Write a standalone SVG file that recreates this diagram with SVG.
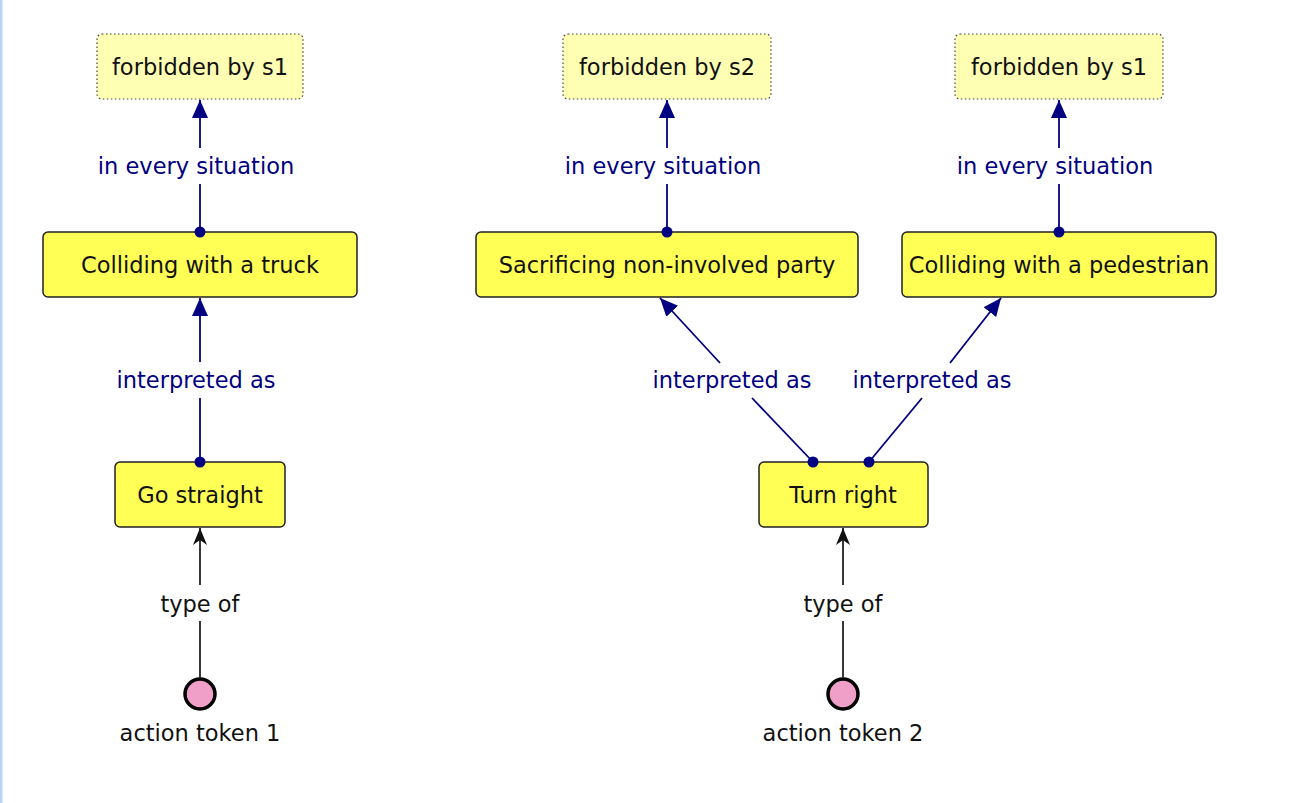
<svg xmlns="http://www.w3.org/2000/svg" width="1291" height="803" viewBox="0 0 1291 803">
<style>
.box{fill:#ffff55;stroke:#222;stroke-width:1.5}
.dbox{fill:#ffffb3;stroke:#444;stroke-width:1.2;stroke-dasharray:1.5 2.5}
.t{font-family:"DejaVu Sans",sans-serif;font-size:22.5px;fill:#111;text-anchor:middle}
.lb{font-family:"DejaVu Sans",sans-serif;font-size:22.5px;fill:#000080;text-anchor:middle}
.lk{font-family:"DejaVu Sans",sans-serif;font-size:22.5px;fill:#111;text-anchor:middle}
.c{stroke:#000080;stroke-width:1.8;fill:none}
.k{stroke:#222;stroke-width:1.8;fill:none}
.dot{fill:#000080}
.tok{fill:#f0a0c8;stroke:#000;stroke-width:3.5}
</style>
<defs>
<marker id="ab" markerUnits="userSpaceOnUse" markerWidth="20" markerHeight="20" viewBox="0 0 20 20" refX="18" refY="10" orient="auto">
<path d="M0,2 L18,10 L0,18 Z" fill="#000080"/>
</marker>
<marker id="ak" markerUnits="userSpaceOnUse" markerWidth="20" markerHeight="20" viewBox="0 0 20 20" refX="17" refY="10" orient="auto">
<path d="M0,3 L17,10 L0,17 L5,10 Z" fill="#111"/>
</marker>
</defs>
<rect width="1291" height="803" fill="#fff"/>
<rect x="0" y="0" width="2.5" height="803" fill="#b8d4f5"/>

<g id="forbidden1"><rect class="dbox" x="97" y="34" width="206" height="65" rx="5"/><text class="t" x="200" y="75">forbidden by s1</text></g>
<g id="truck"><rect class="box" x="43" y="232" width="314" height="65" rx="5"/><text class="t" x="200" y="273">Colliding with a truck</text></g>
<g id="straight"><rect class="box" x="115" y="462" width="170" height="65" rx="5"/><text class="t" x="200" y="503">Go straight</text></g>
<g id="token1"><circle class="tok" cx="200" cy="694" r="15"/><text class="lk" x="200" y="741">action token 1</text></g>

<g id="forbidden2"><rect class="dbox" x="563" y="34" width="208" height="65" rx="5"/><text class="t" x="667" y="75">forbidden by s2</text></g>
<g id="sacrificing"><rect class="box" x="476" y="232" width="382" height="65" rx="5"/><text class="t" x="667" y="273">Sacrificing non-involved party</text></g>
<g id="forbidden3"><rect class="dbox" x="955" y="34" width="208" height="65" rx="5"/><text class="t" x="1059" y="75">forbidden by s1</text></g>
<g id="pedestrian"><rect class="box" x="902" y="232" width="314" height="65" rx="5"/><text class="t" x="1059" y="273">Colliding with a pedestrian</text></g>
<g id="turnright"><rect class="box" x="759" y="462" width="169" height="65" rx="5"/><text class="t" x="843" y="503">Turn right</text></g>
<g id="token2"><circle class="tok" cx="843" cy="694" r="15"/><text class="lk" x="843" y="741">action token 2</text></g>

<g id="connectors">
<line class="c" x1="200" y1="184" x2="200" y2="232"/>
<line class="c" x1="200" y1="148" x2="200" y2="100" marker-end="url(#ab)"/>
<circle class="dot" cx="200" cy="232" r="5.5"/>
<text class="lb" x="196" y="174">in every situation</text>

<line class="c" x1="200" y1="398" x2="200" y2="462"/>
<line class="c" x1="200" y1="362" x2="200" y2="298" marker-end="url(#ab)"/>
<circle class="dot" cx="200" cy="462" r="5.5"/>
<text class="lb" x="196" y="388">interpreted as</text>

<line class="k" x1="200" y1="621" x2="200" y2="678"/>
<line class="k" x1="200" y1="585" x2="200" y2="528" marker-end="url(#ak)"/>
<text class="lk" x="200" y="612">type of</text>

<line class="c" x1="667" y1="184" x2="667" y2="232"/>
<line class="c" x1="667" y1="148" x2="667" y2="100" marker-end="url(#ab)"/>
<circle class="dot" cx="667" cy="232" r="5.5"/>
<text class="lb" x="663" y="174">in every situation</text>

<line class="c" x1="1059" y1="184" x2="1059" y2="232"/>
<line class="c" x1="1059" y1="148" x2="1059" y2="100" marker-end="url(#ab)"/>
<circle class="dot" cx="1059" cy="232" r="5.5"/>
<text class="lb" x="1055" y="174">in every situation</text>

<line class="c" x1="752" y1="398" x2="813" y2="462"/>
<line class="c" x1="720" y1="363" x2="660" y2="298" marker-end="url(#ab)"/>
<circle class="dot" cx="813" cy="462" r="5.5"/>
<text class="lb" x="732" y="388">interpreted as</text>

<line class="c" x1="869" y1="462" x2="922" y2="398"/>
<line class="c" x1="950" y1="363" x2="1001" y2="298" marker-end="url(#ab)"/>
<circle class="dot" cx="869" cy="462" r="5.5"/>
<text class="lb" x="932" y="388">interpreted as</text>

<line class="k" x1="843" y1="621" x2="843" y2="678"/>
<line class="k" x1="843" y1="585" x2="843" y2="528" marker-end="url(#ak)"/>
<text class="lk" x="843" y="612">type of</text>
</g>
</svg>
